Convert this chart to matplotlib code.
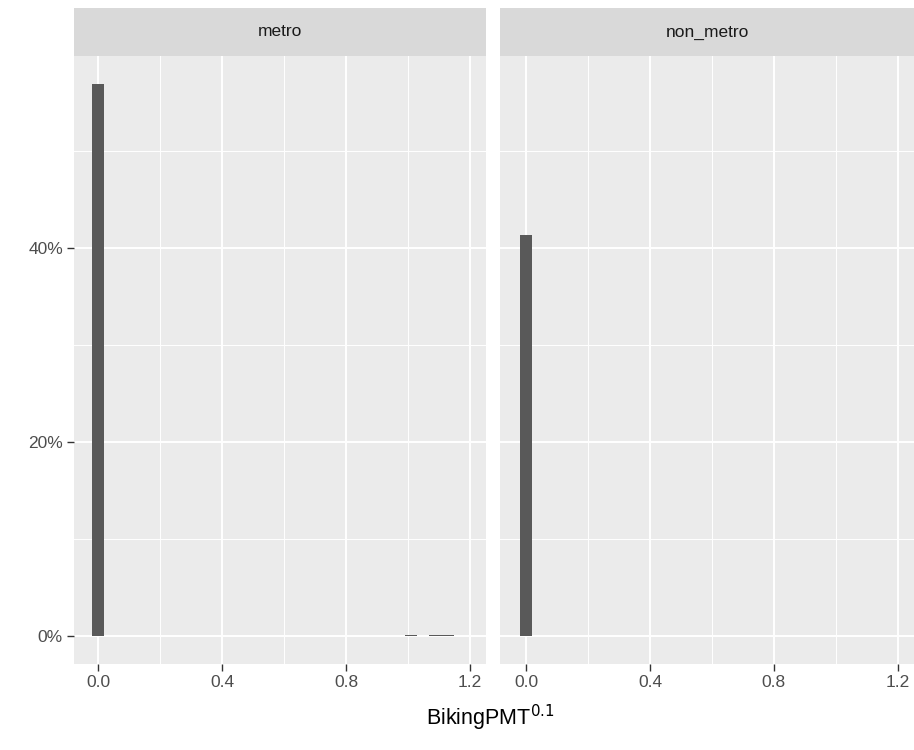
import matplotlib
matplotlib.use("Agg")
import matplotlib.pyplot as plt
from matplotlib.ticker import FixedLocator, FuncFormatter

plt.rcParams['font.family'] = ['Liberation Sans', 'DejaVu Sans']

panels = ["metro", "non_metro"]
metro_centers = [0.0, 1.01, 1.088, 1.127]
metro_pct = [56.9, 0.15, 0.15, 0.15]
nonmetro_centers = [0.0]
nonmetro_pct = [41.3]
bin_width = 0.039
x_ticks = [0.0, 0.4, 0.8, 1.2]
x_minor = [0.2, 0.6, 1.0]
y_ticks = [0, 20, 40]
y_minor = [10, 30, 50]
x_label = "BikingPMT$^{0.1}$"

W, H = 914, 750
fig = plt.figure(figsize=(W / 100, H / 100), dpi=100)

ymax = max(metro_pct + nonmetro_pct)
ylim = (-0.05 * ymax, ymax * 1.05)
xlims = [(-0.078, 1.251), (-0.084, 1.252)]

panel_top, panel_bot = 56, 664
strip_top = 8
boxes = [(74, 486), (500, 914)]
data = [(metro_centers, metro_pct), (nonmetro_centers, nonmetro_pct)]

tick_col = "#333333"
lab_col = "#4D4D4D"

for i, (name, (x0, x1), (cx, py), xl) in enumerate(zip(panels, boxes, data, xlims)):
    ax = fig.add_axes([x0 / W, 1 - panel_bot / H, (x1 - x0) / W, (panel_bot - panel_top) / H])
    ax.set_facecolor("#EBEBEB")
    for s in ax.spines.values():
        s.set_visible(False)
    ax.bar(cx, py, width=bin_width, color="#595959", linewidth=0, zorder=3)
    ax.set_xlim(xl)
    ax.set_ylim(ylim)
    ax.xaxis.set_major_locator(FixedLocator(x_ticks))
    ax.xaxis.set_minor_locator(FixedLocator(x_minor))
    ax.yaxis.set_major_locator(FixedLocator(y_ticks))
    ax.yaxis.set_minor_locator(FixedLocator(y_minor))
    ax.xaxis.set_major_formatter(FuncFormatter(lambda v, p: f"{v:.1f}"))
    ax.yaxis.set_major_formatter(FuncFormatter(lambda v, p: f"{v:.0f}%"))
    ax.grid(which="major", color="white", linewidth=1.4, zorder=0)
    ax.grid(which="minor", color="white", linewidth=0.7, zorder=0)
    ax.set_axisbelow(True)
    ax.tick_params(which="minor", length=0)
    ax.tick_params(which="major", length=5, width=1.0, color=tick_col,
                   labelcolor=lab_col, labelsize=12.5, pad=3)
    if i > 0:
        ax.tick_params(axis="y", which="both", left=False, labelleft=False)
    # strip
    sx = fig.add_axes([x0 / W, 1 - panel_top / H, (x1 - x0) / W, (panel_top - strip_top) / H])
    sx.set_facecolor("#D9D9D9")
    for s in sx.spines.values():
        s.set_visible(False)
    sx.set_xticks([])
    sx.set_yticks([])
    sx.text(0.5, 0.5, name, ha="center", va="center", fontsize=12.5,
            color="#1A1A1A", transform=sx.transAxes)

fig.text(490 / W, 1 - 718 / H, x_label, ha="center", va="center",
         fontsize=15.5, color="black")

fig.savefig("out.png", dpi=100)
